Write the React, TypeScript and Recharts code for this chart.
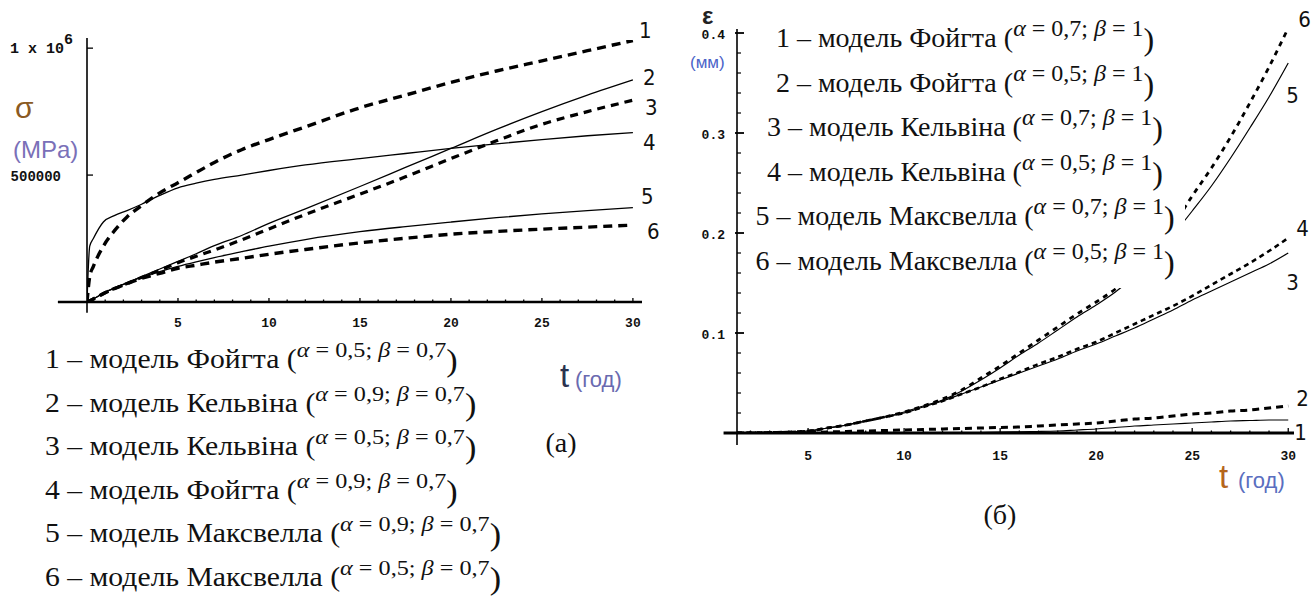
import React from "react";
import { LineChart, Line, XAxis, YAxis, Legend, ReferenceLine } from "recharts";

// ---- (а) σ, MPa vs t, год
const tA = [0, 0.15, 0.35, 0.9, 1.5, 2.2, 3, 4, 5, 6, 7, 8.5, 10, 12, 15, 17.5, 20, 22.5, 25, 27.5, 30];
const sigma1 = [0, 100000, 140000, 220000, 280000, 335000, 380000, 430000, 470000, 510000, 550000, 600000, 640000, 690000, 765000, 815000, 865000, 910000, 950000, 990000, 1030000];
const sigma2 = [0, 5000, 12000, 35000, 55000, 75000, 100000, 130000, 160000, 190000, 222000, 262000, 310000, 367000, 455000, 530000, 605000, 680000, 750000, 815000, 875000];
const sigma3 = [0, 5000, 12000, 33000, 53000, 73000, 97000, 125000, 155000, 180000, 205000, 245000, 288000, 345000, 425000, 493000, 565000, 635000, 700000, 750000, 795000];
const sigma4 = [0, 220000, 250000, 315000, 340000, 360000, 385000, 420000, 450000, 468000, 483000, 500000, 518000, 540000, 565000, 585000, 605000, 623000, 640000, 655000, 667000];
const sigma5 = [0, 5000, 12000, 35000, 55000, 75000, 98000, 120000, 140000, 158000, 175000, 198000, 220000, 246000, 277000, 297000, 315000, 332000, 347000, 360000, 372000];
const sigma6 = [0, 5000, 12000, 33000, 52000, 72000, 93000, 113000, 133000, 145000, 157000, 172000, 188000, 207000, 233000, 251000, 267000, 278000, 287000, 295000, 303000];

const modelsA = ["Фойгта", "Кельвіна", "Кельвіна", "Фойгта", "Максвелла", "Максвелла"];
const alphaA = ["0,5", "0,9", "0,5", "0,9", "0,9", "0,5"];
const betaA = ["0,7", "0,7", "0,7", "0,7", "0,7", "0,7"];

const xTicksA = [1, 2, 3, 4, 5, 6, 7, 8, 9, 10, 11, 12, 13, 14, 15, 16, 17, 18, 19, 20, 21, 22, 23, 24, 25, 26, 27, 28, 29, 30];
const xMajorA = [5, 10, 15, 20, 25, 30];
const yTicksA = [500000, 1000000];

// ---- (б) ε, мм vs t, год
const tB = [1.3, 3, 5, 6, 7, 8, 9, 10, 11, 12, 13, 14, 15, 16, 17, 18, 19, 20, 21, 22, 23, 24, 25, 26, 27, 28, 29, 30];
const eps1 = [0, 0, 0, 0, 0, 0, 0, 0, 0, 0, 0, 0.0005, 0.001, 0.0012, 0.0015, 0.002, 0.003, 0.004, 0.0055, 0.007, 0.008, 0.009, 0.01, 0.011, 0.012, 0.0125, 0.013, 0.013];
const eps2 = [0, 0, 0.0005, 0.001, 0.0015, 0.002, 0.0025, 0.003, 0.0035, 0.004, 0.0045, 0.005, 0.0055, 0.006, 0.007, 0.008, 0.009, 0.01, 0.012, 0.014, 0.015, 0.017, 0.019, 0.02, 0.022, 0.023, 0.025, 0.027];
const eps3 = [0, 0.0005, 0.002, 0.005, 0.008, 0.012, 0.016, 0.02, 0.026, 0.032, 0.039, 0.046, 0.053, 0.06, 0.067, 0.074, 0.082, 0.089, 0.097, 0.105, 0.114, 0.123, 0.133, 0.142, 0.151, 0.16, 0.169, 0.18];
const eps4 = [0, 0.0005, 0.002, 0.005, 0.008, 0.012, 0.016, 0.02, 0.026, 0.032, 0.039, 0.046, 0.054, 0.061, 0.069, 0.076, 0.084, 0.091, 0.1, 0.109, 0.118, 0.127, 0.137, 0.148, 0.159, 0.17, 0.182, 0.195];
const eps5 = [0, 0.0005, 0.002, 0.005, 0.008, 0.012, 0.016, 0.021, 0.027, 0.033, 0.042, 0.053, 0.065, 0.078, 0.09, 0.103, 0.116, 0.128, 0.141, 0.157, 0.176, 0.198, 0.222, 0.247, 0.275, 0.305, 0.336, 0.37];
const eps6 = [0, 0.0005, 0.002, 0.005, 0.008, 0.012, 0.016, 0.021, 0.027, 0.034, 0.043, 0.055, 0.067, 0.08, 0.093, 0.106, 0.119, 0.131, 0.144, 0.16, 0.181, 0.207, 0.237, 0.265, 0.296, 0.33, 0.366, 0.405];

const modelsB = ["Фойгта", "Фойгта", "Кельвіна", "Кельвіна", "Максвелла", "Максвелла"];
const alphaB = ["0,7", "0,5", "0,7", "0,5", "0,7", "0,5"];
const betaB = ["1", "1", "1", "1", "1", "1"];

const xTicksB = [2, 3, 4, 5, 6, 7, 8, 9, 10, 11, 12, 13, 14, 15, 16, 17, 18, 19, 20, 21, 22, 23, 24, 25, 26, 27, 28, 29, 30];
const xMajorB = [5, 10, 15, 20, 25, 30];
const yTicksB = [0.02, 0.04, 0.06, 0.08, 0.1, 0.12, 0.14, 0.16, 0.18, 0.2, 0.22, 0.24, 0.26, 0.28, 0.3, 0.32, 0.34, 0.36, 0.38, 0.4];
const yMajorB = [0.1, 0.2, 0.3, 0.4];

const dataA = tA.map((t, i) => ({ t, s1: sigma1[i], s2: sigma2[i], s3: sigma3[i], s4: sigma4[i], s5: sigma5[i], s6: sigma6[i] }));
const dataB = tB.map((t, i) => ({ t, e1: eps1[i], e2: eps2[i], e3: eps3[i], e4: eps4[i], e5: eps5[i], e6: eps6[i] }));

const serif = '"Liberation Serif", "Times New Roman", serif';
const sans = '"Liberation Sans", Arial, sans-serif';
const mono = '"Liberation Mono", "DejaVu Sans Mono", monospace';
const narrow = '"DejaVu Sans Condensed", "DejaVu Sans", sans-serif';

const makeXTick = (major: number[], majorLen: number, minorLen: number, dy: number) => (p: any) => {
  const v = p.payload.value;
  const isMajor = major.includes(v);
  return (
    <g>
      <line x1={p.x} x2={p.x} y1={p.y} y2={p.y - (isMajor ? majorLen : minorLen)} stroke="#000" strokeWidth={1.3} />
      {isMajor && (
        <text x={p.x} y={p.y + dy} textAnchor="middle" dominantBaseline="central" fontFamily={mono} fontSize={13} fontWeight="bold" fill="#111">
          {v}
        </text>
      )}
    </g>
  );
};

const yTickA = (p: any) => {
  const v = p.payload.value;
  return (
    <g>
      <line x1={p.x} x2={p.x + 6} y1={p.y} y2={p.y} stroke="#000" strokeWidth={1.3} />
      {v === 1000000 ? (
        <text x={p.x - 77} y={p.y + 1} dominantBaseline="central" fontFamily={mono} fontSize={15} fontWeight="bold" fill="#111">
          1 x 10
          <tspan dy={-9} fontSize={15}>6</tspan>
        </text>
      ) : (
        <text x={p.x - 26} y={p.y + 2} textAnchor="end" dominantBaseline="central" fontFamily={mono} fontSize={14} fontWeight="bold" fill="#111">
          {v}
        </text>
      )}
    </g>
  );
};

const yTickB = (p: any) => {
  const v = p.payload.value;
  const isMajor = yMajorB.some((m) => Math.abs(m - v) < 1e-9);
  return (
    <g>
      <line x1={isMajor ? p.x - 2 : p.x} x2={p.x + (isMajor ? 7 : 4)} y1={p.y} y2={p.y} stroke="#000" strokeWidth={isMajor ? 1.8 : 1.2} />
      {isMajor && (
        <text x={p.x - 12} y={p.y + 2} textAnchor="end" dominantBaseline="central" fontFamily={mono} fontSize={13} fontWeight="bold" fill="#111">
          {v.toFixed(1)}
        </text>
      )}
    </g>
  );
};

const endLabel = (num: string, dx: number, dy: number, last: number) => (p: any) => {
  if (p.index !== last) return null;
  const x = p.x ?? p.viewBox?.x;
  const y = p.y ?? p.viewBox?.y;
  return (
    <text x={x + dx} y={y + dy} dominantBaseline="central" fontFamily={narrow} fontSize={22} fill="#111">
      {num}
    </text>
  );
};

const legendRows = (models: string[], alphas: string[], betas: string[], opts: any) => (
  <div style={{ fontFamily: serif, color: "#111", paddingTop: opts.padTop, textAlign: opts.center ? "center" : "left" }}>
    {models.map((m, i) => (
      <div key={i} style={{ height: opts.row, lineHeight: `${opts.row}px`, whiteSpace: "nowrap", transform: `scaleX(${opts.sx})`, transformOrigin: opts.center ? "center" : "left center" }}>
        <span style={{ fontSize: opts.size }}>{i + 1} – модель {m} (</span>
        <span style={{ fontSize: opts.param, position: "relative", top: -opts.raise }}>
          <i>α</i> = {alphas[i]}; <i>β</i> = {betas[i]}
        </span>
        <span style={{ fontSize: opts.size + 4, position: "relative", top: 3 }}>)</span>
      </div>
    ))}
  </div>
);

const seriesA = [
  { key: "s1", dash: "9 6", w: 3.4, dx: 6, dy: -10 },
  { key: "s2", dash: undefined, w: 1.3, dx: 10, dy: -2 },
  { key: "s3", dash: "8 6", w: 3.2, dx: 12, dy: 7 },
  { key: "s4", dash: undefined, w: 1.3, dx: 10, dy: 10 },
  { key: "s5", dash: undefined, w: 1.3, dx: 8, dy: -11 },
  { key: "s6", dash: "9 6", w: 3.4, dx: 14, dy: 6 },
];

const seriesB = [
  { key: "e1", dash: undefined, w: 1.2, dx: 6, dy: 12 },
  { key: "e2", dash: "7 5", w: 3, dx: 8, dy: -8 },
  { key: "e3", dash: undefined, w: 1.2, dx: -2, dy: 29 },
  { key: "e4", dash: "5 4", w: 2.6, dx: 8, dy: -10 },
  { key: "e5", dash: undefined, w: 1.2, dx: -2, dy: 32 },
  { key: "e6", dash: "5 5", w: 2.8, dx: 10, dy: -9 },
];

export default function App() {
  return (
    <div style={{ position: "absolute", left: 0, top: 0, width: 1315, height: 596, background: "#fff", overflow: "hidden" }}>
      <div style={{ position: "absolute", left: 0, top: 0 }}>
        <LineChart width={660} height={596} data={dataA} margin={{ top: 38, right: 18, bottom: 293, left: 86 }}>
          <XAxis type="number" dataKey="t" domain={[0, 30.5]} ticks={xTicksA} interval={0} height={1} axisLine={false} tickLine={false} tickSize={0} tickMargin={0} tick={makeXTick(xMajorA, 4, 2.5, 21)} allowDataOverflow />
          <YAxis type="number" domain={[0, 1040000]} ticks={yTicksA} interval={0} width={1} axisLine={false} tickLine={false} tickSize={0} tickMargin={0} tick={yTickA} allowDataOverflow />
          <ReferenceLine segment={[{ x: -1.6, y: 0 }, { x: 30.5, y: 0 }]} ifOverflow="visible" stroke="#000" strokeWidth={2.6} />
          <ReferenceLine segment={[{ x: 0, y: -42000 }, { x: 0, y: 1040000 }]} ifOverflow="visible" stroke="#000" strokeWidth={1.6} />
          {seriesA.map((s, i) => (
            <Line key={s.key} dataKey={s.key} type="monotone" stroke="#000" strokeWidth={s.w} strokeDasharray={s.dash} dot={false} isAnimationActive={false} label={endLabel(String(i + 1), s.dx, s.dy, tA.length - 1)} />
          ))}
          <Legend layout="vertical" align="center" verticalAlign="middle" wrapperStyle={{ left: 45, top: 336, width: 610, height: 260 }} content={() => legendRows(modelsA, alphaA, betaA, { size: 27, param: 22, raise: 11, sx: 1.1, padTop: 0, row: 43.5, center: false })} />
        </LineChart>
      </div>

      <div style={{ position: "absolute", left: 690, top: 0 }}>
        <LineChart width={625} height={596} data={dataB} margin={{ top: 29, right: 21, bottom: 162, left: 46 }}>
          <XAxis type="number" dataKey="t" domain={[1.3, 30.3]} ticks={xTicksB} interval={0} height={1} axisLine={false} tickLine={false} tickSize={0} tickMargin={0} tick={makeXTick(xMajorB, 5, 2.5, 23)} allowDataOverflow />
          <YAxis type="number" domain={[0, 0.404]} ticks={yTicksB} interval={0} width={1} axisLine={false} tickLine={false} tickSize={0} tickMargin={0} tick={yTickB} allowDataOverflow />
          <ReferenceLine segment={[{ x: 0.6, y: 0 }, { x: 30.3, y: 0 }]} ifOverflow="visible" stroke="#000" strokeWidth={3.2} />
          <ReferenceLine segment={[{ x: 1.3, y: -0.012 }, { x: 1.3, y: 0.404 }]} ifOverflow="visible" stroke="#000" strokeWidth={1.6} />
          {seriesB.map((s, i) => (
            <Line key={s.key} dataKey={s.key} type="monotone" stroke="#000" strokeWidth={s.w} strokeDasharray={s.dash} dot={false} isAnimationActive={false} label={endLabel(String(i + 1), s.dx, s.dy, tB.length - 1)} />
          ))}
          <Legend layout="vertical" align="center" verticalAlign="middle" wrapperStyle={{ left: 55, top: 0, width: 440, height: 288, background: "#fff" }} content={() => legendRows(modelsB, alphaB, betaB, { size: 28, param: 24, raise: 11, sx: 1.0, padTop: 14, row: 44.5, center: true })} />
        </LineChart>
      </div>

      <svg width={1315} height={596} style={{ position: "absolute", left: 0, top: 0, pointerEvents: "none" }}>
        <text x={15} y={118} fontFamily={sans} fontSize={30} fill="#8a5a22">σ</text>
        <text x={13} y={158} fontFamily={sans} fontSize={24} fill="#7a70b8">(MPa)</text>
        <text x={560} y={387} fontFamily={sans} fontSize={33} fill="#2a3350">t</text>
        <text x={575} y={387} fontFamily={sans} fontSize={22} fill="#6a6ab0">(год)</text>
        <text x={561} y={452} textAnchor="middle" fontFamily={serif} fontSize={28} fill="#111">(а)</text>
        <text x={702} y={24} fontFamily={sans} fontSize={24} fontWeight="bold" fill="#222">ε</text>
        <text x={690} y={68} fontFamily={sans} fontSize={17} fill="#4a63c8">(мм)</text>
        <text x={1219} y={488} fontFamily={sans} fontSize={33} fill="#b5661c">t</text>
        <text x={1238} y={488} fontFamily={sans} fontSize={22} fill="#5a6ec0">(год)</text>
        <text x={1000} y={524} textAnchor="middle" fontFamily={serif} fontSize={28} fill="#111">(б)</text>
      </svg>
    </div>
  );
}
